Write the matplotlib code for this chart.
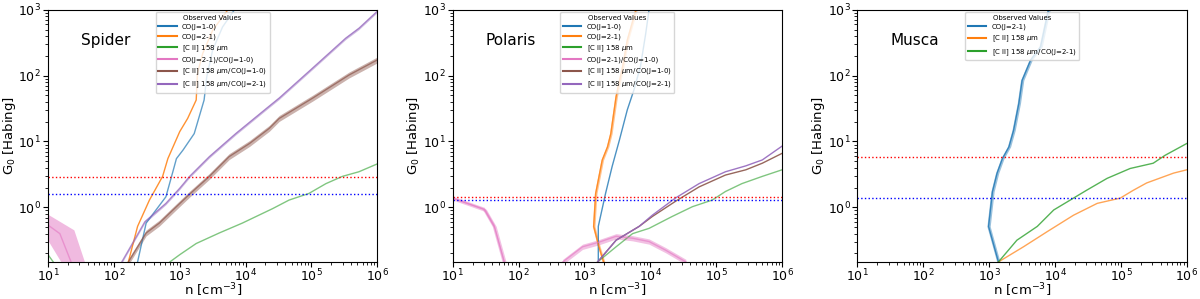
import matplotlib
matplotlib.use("Agg")
import matplotlib.pyplot as plt
from matplotlib.lines import Line2D
import numpy as np

# values, as log10(n) and log10(G0)
# --- Spider ---
sp_co10_x = [2.36, 2.49, 2.64, 2.79, 2.89, 2.95, 3.05, 3.22, 3.37, 3.41, 3.50, 3.65, 3.83]
sp_co10_y = [-0.83, -0.24, -0.04, 0.16, 0.52, 0.74, 0.87, 1.12, 1.63, 1.98, 2.39, 2.74, 3.0]
sp_co21_x = [2.22, 2.36, 2.54, 2.74, 2.82, 3.0, 3.12, 3.25, 3.27, 3.35, 3.50, 3.73]
sp_co21_y = [-0.83, -0.29, 0.11, 0.47, 0.74, 1.15, 1.35, 1.63, 2.04, 2.34, 2.69, 3.0]
sp_cii_x = [2.85, 3.0, 3.25, 3.60, 3.95, 4.41, 4.66, 4.96, 5.22, 5.47, 5.72, 6.0]
sp_cii_y = [-0.83, -0.72, -0.55, -0.39, -0.24, -0.02, 0.11, 0.21, 0.36, 0.47, 0.54, 0.66]
sp_cii_low_x = [1.0, 1.08]
sp_cii_low_y = [-0.72, -0.83]
sp_ratio_x = [1.0, 1.18, 1.35]
sp_ratio_y = [-0.27, -0.40, -0.83]
sp_ratio_hi_x = [1.0, 1.40, 1.56]
sp_ratio_hi_y = [-0.11, -0.35, -0.83]
sp_ratio_lo_x = [1.0, 1.20]
sp_ratio_lo_y = [-0.50, -0.83]
sp_c10_x = [2.22, 2.49, 2.69, 2.95, 3.15, 3.45, 3.75, 4.06, 4.36, 4.51, 5.02, 5.57, 6.0]
sp_c10_y = [-0.83, -0.39, -0.24, 0.01, 0.20, 0.47, 0.77, 0.97, 1.20, 1.35, 1.66, 2.01, 2.24]
sp_c21_x = [2.12, 2.47, 2.79, 3.0, 3.15, 3.45, 3.85, 4.35, 4.51, 5.0, 5.52, 5.72, 6.0]
sp_c21_y = [-0.83, -0.22, 0.06, 0.29, 0.47, 0.77, 1.12, 1.53, 1.66, 2.10, 2.57, 2.72, 2.98]
sp_red, sp_blue = 2.86, 1.58

# --- Polaris ---
po_co10_x = [3.21, 3.21, 3.32, 3.42, 3.53, 3.65, 3.75, 3.85, 3.93, 3.98]
po_co10_y = [-0.83, -0.29, 0.21, 0.62, 1.02, 1.48, 1.78, 2.14, 2.64, 3.0]
po_co21_x = [3.29, 3.22, 3.14, 3.17, 3.27, 3.35, 3.40, 3.48, 3.50, 3.58, 3.65, 3.78]
po_co21_y = [-0.83, -0.60, -0.29, 0.21, 0.72, 0.92, 1.12, 1.68, 1.78, 2.14, 2.54, 3.0]
po_cii_x = [3.20, 3.48, 3.73, 3.98, 4.33, 4.64, 4.94, 5.14, 5.39, 5.70, 6.0]
po_cii_y = [-0.83, -0.60, -0.40, -0.32, -0.14, 0.01, 0.11, 0.24, 0.36, 0.47, 0.57]
po_ratio_a_x = [1.0, 1.48, 1.63, 1.78]
po_ratio_a_y = [0.14, -0.03, -0.29, -0.83]
po_ratio_b_x = [2.67, 2.97, 3.22, 3.48, 3.73, 3.98, 4.23, 4.54]
po_ratio_b_y = [-0.83, -0.60, -0.53, -0.44, -0.47, -0.52, -0.65, -0.83]
po_c10_x = [3.20, 3.48, 3.83, 4.03, 4.38, 4.74, 5.14, 5.45, 5.70, 6.0]
po_c10_y = [-0.83, -0.50, -0.29, -0.14, 0.09, 0.31, 0.49, 0.57, 0.67, 0.82]
po_c21_x = [3.20, 3.48, 3.83, 4.03, 4.38, 4.74, 5.14, 5.45, 5.70, 6.0]
po_c21_y = [-0.83, -0.50, -0.29, -0.12, 0.14, 0.36, 0.54, 0.63, 0.72, 0.93]
po_red, po_blue = 1.45, 1.28

# --- Musca ---
mu_co21_x = [3.14, 2.99, 3.05, 3.12, 3.20, 3.30, 3.37, 3.45, 3.50, 3.63, 3.78, 3.90]
mu_co21_y = [-0.83, -0.29, 0.24, 0.52, 0.74, 0.92, 1.17, 1.58, 1.93, 2.24, 2.44, 3.0]
mu_cii_x = [3.14, 3.52, 3.88, 4.28, 4.64, 4.99, 5.19, 5.39, 5.80, 6.0]
mu_cii_y = [-0.83, -0.60, -0.37, -0.12, 0.06, 0.14, 0.26, 0.37, 0.52, 0.57]
mu_c21_x = [3.14, 3.42, 3.73, 3.98, 4.28, 4.48, 4.79, 5.14, 5.49, 5.67, 6.0]
mu_c21_y = [-0.83, -0.50, -0.29, -0.04, 0.14, 0.26, 0.44, 0.59, 0.67, 0.79, 0.97]
mu_red, mu_blue = 5.75, 1.37

names_full = ['CO(J=1-0)', 'CO(J=2-1)', r'[C II] 158 $\mu$m', 'CO(J=2-1)/CO(J=1-0)',
              r'[C II] 158 $\mu$m/CO(J=1-0)', r'[C II] 158 $\mu$m/CO(J=2-1)']
names_musca = ['CO(J=2-1)', r'[C II] 158 $\mu$m', r'[C II] 158 $\mu$m/CO(J=2-1)']
cols_full = ['C0', 'C1', 'C2', 'C6', 'C5', 'C4']
cols_musca = ['C0', 'C1', 'C2']


def curve(ax, lx, ly, c, dy=0.0, dx=0.0, lw=1.0, alpha=0.7):
    n = 10 ** np.array(lx)
    g = 10 ** np.array(ly)
    ax.plot(n, g, color=c, lw=lw, alpha=alpha)
    if dy:
        ax.fill_between(n, g / 10 ** dy, g * 10 ** dy, color=c, alpha=0.45, lw=0)
    if dx:
        ax.fill_betweenx(g, n / 10 ** dx, n * 10 ** dx, color=c, alpha=0.45, lw=0)


fig, axes = plt.subplots(1, 3, figsize=(12, 2.99), dpi=100)
fig.subplots_adjust(left=0.040, right=0.989, bottom=0.124, top=0.967, wspace=0.229)

ax = axes[0]
curve(ax, sp_co10_x, sp_co10_y, 'C0')
curve(ax, sp_co21_x, sp_co21_y, 'C1', alpha=0.85)
curve(ax, sp_cii_x, sp_cii_y, 'C2', alpha=0.6)
curve(ax, sp_cii_low_x, sp_cii_low_y, 'C2', alpha=0.6)
curve(ax, sp_ratio_x, sp_ratio_y, 'C6', alpha=0.6)
band_x = 10 ** np.concatenate([sp_ratio_hi_x, sp_ratio_lo_x[::-1]])
band_y = 10 ** np.concatenate([sp_ratio_hi_y, sp_ratio_lo_y[::-1]])
ax.fill(band_x, band_y, color='C6', alpha=0.5, lw=0)
curve(ax, sp_c10_x, sp_c10_y, 'C5', dy=0.045)
curve(ax, sp_c21_x, sp_c21_y, 'C4', dy=0.02)

ax = axes[1]
curve(ax, po_co10_x, po_co10_y, 'C0', alpha=0.8)
curve(ax, po_co21_x, po_co21_y, 'C1', dx=0.02, alpha=0.8)
curve(ax, po_cii_x, po_cii_y, 'C2', alpha=0.6)
curve(ax, po_ratio_a_x, po_ratio_a_y, 'C6', dx=0.03, dy=0.03, alpha=0.6)
curve(ax, po_ratio_b_x, po_ratio_b_y, 'C6', dy=0.04, alpha=0.6)
curve(ax, po_c10_x, po_c10_y, 'C5', alpha=0.9)
curve(ax, po_c21_x, po_c21_y, 'C4', alpha=0.9)

ax = axes[2]
curve(ax, mu_co21_x, mu_co21_y, 'C0', dx=0.025, alpha=0.8)
curve(ax, mu_cii_x, mu_cii_y, 'C1', alpha=0.7)
curve(ax, mu_c21_x, mu_c21_y, 'C2', alpha=0.8)

titles = ['Spider', 'Polaris', 'Musca']
reds = [sp_red, po_red, mu_red]
blues = [sp_blue, po_blue, mu_blue]
for i, ax in enumerate(axes):
    ax.axhline(reds[i], color='red', ls=':', lw=1)
    ax.axhline(blues[i], color='blue', ls=':', lw=1)
    ax.set_xscale('log')
    ax.set_yscale('log')
    ax.set_xlim(10, 1e6)
    ax.set_ylim(0.148, 1e3)
    ax.set_xlabel(r'n [cm$^{-3}$]', fontsize=9.5)
    ax.set_ylabel(r'G$_0$ [Habing]', fontsize=9.5)
    ax.xaxis.set_label_coords(0.5, -0.076)
    ax.yaxis.set_label_coords(-0.092, 0.5)
    ax.tick_params(labelsize=9, pad=1.5)
    ax.tick_params(axis='x', pad=1)
    ax.text(0.1, 0.88, titles[i], transform=ax.transAxes, fontsize=11, va='center')
    if i < 2:
        names, cols = names_full, cols_full
    else:
        names, cols = names_musca, cols_musca
    handles = [Line2D([], [], color=c, lw=1.5) for c in cols]
    leg = ax.legend(handles, names, title='Observed Values', loc='upper center',
                    fontsize=5, title_fontsize=5, borderaxespad=0.3, labelspacing=0.45,
                    handlelength=2.6, framealpha=0.8)

fig.savefig('out.png', dpi=100)
